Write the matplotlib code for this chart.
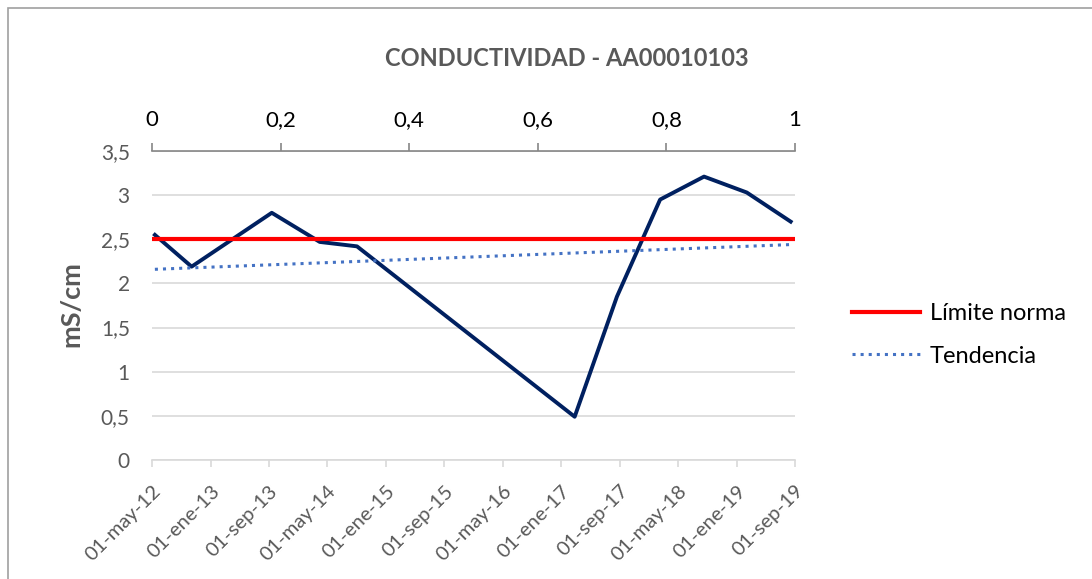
import matplotlib.pyplot as plt
import numpy as np
from matplotlib.patches import Rectangle

plt.rcParams['font.family'] = ['Lato', 'DejaVu Sans']

# datos
fechas = np.array(['2012-05-13', '2012-10-13', '2013-09-12', '2014-03-31', '2014-09-02',
                   '2017-02-25', '2017-08-20', '2018-02-16', '2018-08-18', '2019-02-12',
                   '2019-08-14'], dtype='datetime64[D]')
conductividad = [2.55, 2.19, 2.80, 2.47, 2.42, 0.49, 1.85, 2.95, 3.21, 3.03, 2.70]

limite_x = [0, 1]
limite_y = [2.5, 2.5]

tendencia_x = np.array(['2012-05-13', '2019-08-14'], dtype='datetime64[D]')
tendencia_y = [2.16, 2.44]

ticks_fechas = np.array(['2012-05-01', '2013-01-01', '2013-09-01', '2014-05-01', '2015-01-01',
                         '2015-09-01', '2016-05-01', '2017-01-01', '2017-09-01', '2018-05-01',
                         '2019-01-01', '2019-09-01'], dtype='datetime64[D]')
etiquetas_fechas = ['01-may-12', '01-ene-13', '01-sep-13', '01-may-14', '01-ene-15', '01-sep-15',
                    '01-may-16', '01-ene-17', '01-sep-17', '01-may-18', '01-ene-19', '01-sep-19']
ticks_y = [0, 0.5, 1, 1.5, 2, 2.5, 3, 3.5]
etiquetas_y = ['0', '0,5', '1', '1,5', '2', '2,5', '3', '3,5']
ticks_sup = [0, 0.2, 0.4, 0.6, 0.8, 1]
etiquetas_sup = ['0', '0,2', '0,4', '0,6', '0,8', '1']

W, H = 1092, 579
fig = plt.figure(figsize=(W/100, H/100), dpi=100)
fig.patches.append(Rectangle((8/W, -0.1), 1.2, 1.1 - 8/H, transform=fig.transFigure,
                             fill=False, edgecolor='#a0a0a0', lw=1.2))

ax = fig.add_axes([152/W, 1-460/H, (795-152)/W, (460-151)/H])
gris = '#595959'

ax.plot(fechas, conductividad, color='#002060', lw=2.8, zorder=3)
ax.plot(tendencia_x, tendencia_y, color='#4472C4', lw=2.2, ls=':', zorder=4, label='Tendencia')
ax.set_xlim(ticks_fechas[0], ticks_fechas[-1])
ax.set_ylim(0, 3.5)
ax.set_yticks(ticks_y)
ax.set_yticklabels(etiquetas_y)
ax.set_xticks(ticks_fechas)
ax.set_xticklabels(etiquetas_fechas, rotation=45, ha='right', va='top', rotation_mode='anchor')
ax.grid(axis='y', color='#d9d9d9', lw=1.2)
ax.set_axisbelow(True)
for s in ['left', 'right', 'top']:
    ax.spines[s].set_visible(False)
ax.spines['bottom'].set_color('#d9d9d9')
ax.spines['bottom'].set_linewidth(1.2)
ax.tick_params(axis='y', length=0, pad=16, labelsize=15, labelcolor=gris)
ax.tick_params(axis='x', length=5, color='#d9d9d9', width=1.2, pad=11, labelsize=14.5, labelcolor=gris)

# eje secundario para el límite
ax2 = ax.twiny()
ax2.plot(limite_x, limite_y, color='#ff0000', lw=3, label='Límite norma')
ax2.set_xlim(0, 1)
ax2.set_xticks(ticks_sup)
ax2.set_xticklabels(etiquetas_sup)
for s in ['left', 'right', 'bottom']:
    ax2.spines[s].set_visible(False)
ax2.spines['top'].set_color('#868686')
ax2.spines['top'].set_linewidth(1.2)
ax2.tick_params(axis='x', length=6, color='#868686', width=1.2, pad=9, labelsize=16, labelcolor='black')

fig.text(71/W, 1-304/H, 'mS/cm', rotation=90, ha='center', va='center',
         fontsize=19.5, fontweight='bold', color=gris)
fig.text(567/W, 1-58/H, 'CONDUCTIVIDAD - AA00010103', ha='center', va='center',
         fontsize=17, fontweight='bold', color=gris)

h2, l2 = ax2.get_legend_handles_labels()
h1, l1 = ax.get_legend_handles_labels()
fig.legend(h2 + h1, l2 + l1, loc='center left', bbox_to_anchor=(852/W, 1-335/H),
           frameon=False, fontsize=17, handlelength=2.9, handletextpad=0.4,
           labelspacing=0.9, borderpad=0, borderaxespad=0)

fig.savefig('out.png', dpi=100)
